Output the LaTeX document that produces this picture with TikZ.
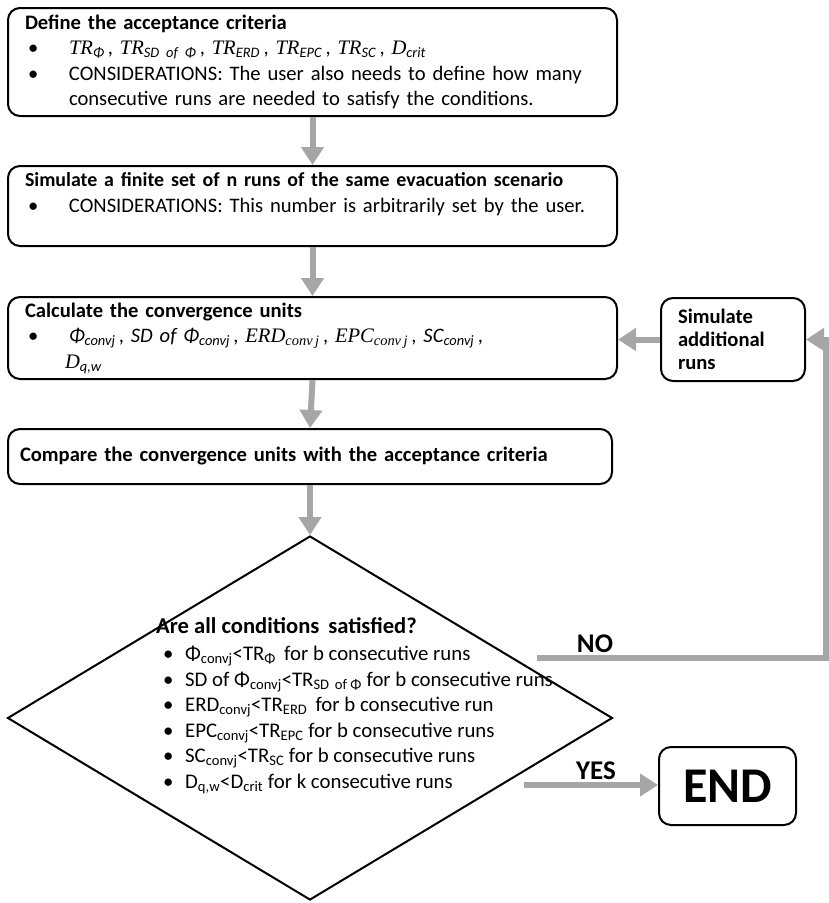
\documentclass[tikz,border=0pt]{standalone}
\usepackage{fontspec}
\setmainfont{Carlito}
\newfontfamily\mfont{Liberation Serif}
\usetikzlibrary{arrows.meta,positioning,shapes.geometric}
\definecolor{fcInk}{HTML}{000000}
\definecolor{fcArrow}{HTML}{A6A6A6}
% bullet in the boxes and in the decision
\newcommand{\bul}{\makebox[44pt][l]{\hspace{3pt}\textbullet}}
\newcommand{\dbul}{\makebox[29pt][l]{\hspace{7pt}\textbullet}}
% threshold / unit symbols
\newcommand{\mtr}[1]{{\mfont\itshape TR}\textsubscript{\itshape #1}}
\newcommand{\msym}[2]{{\mfont\itshape #1}\textsubscript{\mfont\itshape #2}}
\tikzset{
  % Rounded process box
  pbox/.style={rectangle,rounded corners=12pt,
    draw=fcInk,line width=2pt,fill=white,
    anchor=north west,align=left,inner xsep=17pt,inner ysep=0pt,
    font=\fontsize{20.6}{25.5}\selectfont},
  % Decision diamond
  dbox/.style={diamond,draw=fcInk,line width=2pt,
    minimum width=605pt,minimum height=364pt,inner sep=0pt},
  % Decision text
  dtext/.style={anchor=north west,align=left,inner sep=0pt,
    font=\fontsize{20.8}{25.5}\selectfont},
  % Arrows
  arr/.style={-{Triangle[width=22pt,length=18pt]},line width=6pt,
    draw=fcArrow},
  lbl/.style={font=\fontsize{27}{30}\selectfont\bfseries},
}
\begin{document}
\begin{tikzpicture}[x=1pt,y=-1pt]
  \useasboundingbox (0,0) rectangle (829,903);

  \node[pbox,minimum width=604pt,minimum height=108pt,text width=575pt]
    (define) at (7,7)
    {\textbf{Define the acceptance criteria}\\
     \bul\mtr{Φ}\,, \mtr{SD of Φ}\,, \mtr{ERD}\,,
       \mtr{EPC}\,, \mtr{SC}\,, {\mfont\itshape D}\textsubscript{\itshape crit}\\
     \bul CONSIDERATIONS: The user also needs to define how many\\
     \hspace*{44pt}consecutive runs are needed to satisfy the conditions.};
  \node[pbox,minimum width=602pt,minimum height=80pt,text width=575pt,
    text depth=53pt] (simulate) at (7,165)
    {{\fontsize{19.9}{25.5}\selectfont\bfseries
      Simulate a finite set of n runs of the same evacuation scenario}\\
     \bul CONSIDERATIONS: This number is arbitrarily set by the user.};
  \node[pbox,minimum width=604pt,minimum height=82pt,text width=575pt]
    (calc) at (7,296)
    {\textbf{Calculate the convergence units}\\
     \bul{\itshape Φ\textsubscript{convj}}\,,
       {\itshape SD of Φ\textsubscript{convj}}\,,
       \msym{ERD}{conv\,j}\,, \msym{EPC}{conv\,j}\,,
       {\itshape SC\textsubscript{convj}}\,,\\
     \hspace*{40pt}{\mfont\itshape D}\textsubscript{\itshape q,w}};
  \node[pbox,minimum width=604pt,minimum height=55pt,text width=580pt,
    inner xsep=4pt] (compare) at (7,428)
    {\textbf{Compare the convergence units with the acceptance criteria}};
  \node[pbox,minimum width=135pt,minimum height=83pt,text width=110pt,
    inner xsep=17pt,font=\fontsize{20.6}{23}\selectfont\bfseries]
    (more) at (660,297)
    {Simulate\\ additional\\ runs};

  \node[dbox] (cond) at (310,718) {};
  \node[dtext] (condtxt) at (156,617)
    {{\fontsize{22.6}{25.5}\selectfont\bfseries
      Are all conditions\, satisfied?}\\[2pt]
     \dbul Φ\textsubscript{convj}<TR\textsubscript{Φ}\, for b consecutive runs\\
     \dbul SD of Φ\textsubscript{convj}<TR\textsubscript{SD\, of Φ} for b consecutive runs\\
     \dbul ERD\textsubscript{convj}<TR\textsubscript{ERD}\, for b consecutive run\\
     \dbul EPC\textsubscript{convj}<TR\textsubscript{EPC} for b consecutive runs\\
     \dbul SC\textsubscript{convj}<TR\textsubscript{SC} for b consecutive runs\\
     \dbul D\textsubscript{q,w}<D\textsubscript{crit} for k consecutive runs};

  \node[pbox,minimum width=137pt,minimum height=78pt,align=center,
    inner xsep=0pt,font=\fontsize{50}{54}\selectfont\bfseries]
    (theend) at (658,746) {END};

  \coordinate (nofrom) at (537,658);
  \coordinate (yesfrom) at (524,785);
  \node[lbl] (nolbl) at (595,644) {NO};
  \node[lbl] (yeslbl) at (596,771) {YES};

  \draw[arr] (define.south) -- (simulate.north);
  \draw[arr] (simulate.south) -- (calc.north);
  \draw[arr] (calc.south) -- (compare.north);
  \draw[arr] (compare.south) -- (cond.north);
  \draw[arr] (more.west) -- (more.west -| calc.east);
  \draw[arr] (nofrom) -- ++(289,0) |- (more.east);
  \draw[arr] (yesfrom) -- (yesfrom -| theend.west);
\end{tikzpicture}
\end{document}
